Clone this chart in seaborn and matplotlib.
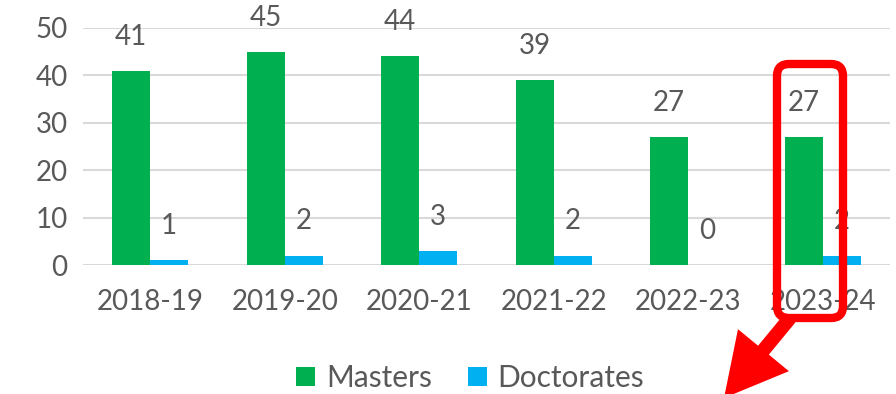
import matplotlib
matplotlib.use("Agg")
import matplotlib.pyplot as plt
import matplotlib.transforms as mtransforms
from matplotlib.patches import FancyBboxPatch, Polygon, Patch
import numpy as np
import pandas as pd
import seaborn as sns

years = ["2018-19", "2019-20", "2020-21", "2021-22", "2022-23", "2023-24"]
masters = [41, 45, 44, 39, 27, 27]
doctorates = [1, 2, 3, 2, 0, 2]
series = ["Masters", "Doctorates"]
colors = ["#00B050", "#00B0F0"]

df = pd.DataFrame({
    "Year": years * 2,
    "Count": masters + doctorates,
    "Degree": [series[0]] * len(years) + [series[1]] * len(years),
})

sns.set_style("white")
plt.rcParams["font.family"] = ["Lato", "DejaVu Sans"]
text_color = "#595959"

W, H = 896, 394
fig = plt.figure(figsize=(W / 100, H / 100), dpi=100)
ax = fig.add_axes([83 / W, 1 - 265 / H, (890 - 83) / W, (265 - 28) / H])

sns.barplot(data=df, x="Year", y="Count", hue="Degree", palette=colors,
            width=0.565, saturation=1, ax=ax, legend=False, edgecolor="none")

ax.set_ylim(0, 50)
ax.set_yticks(range(0, 51, 10))
ax.yaxis.grid(True, color="#d9d9d9", linewidth=1.5)
ax.set_axisbelow(True)
for s in ax.spines.values():
    s.set_visible(False)
ax.set_xlabel("")
ax.set_ylabel("")
ax.tick_params(axis="both", length=0, labelsize=20, labelcolor=text_color)
ax.tick_params(axis="x", pad=17)
ax.tick_params(axis="y", pad=11)

# value labels above each bar
for container in ax.containers:
    for bar in container:
        h = bar.get_height()
        ax.annotate(f"{int(h)}", (bar.get_x() + bar.get_width() / 2, h),
                    xytext=(0, 24.5), textcoords="offset points",
                    ha="center", va="center", fontsize=20, color=text_color)

handles = [Patch(facecolor=c, edgecolor="none") for c in colors]
fig.legend(handles, series, loc="center", bbox_to_anchor=(470 / W, 1 - 378 / H),
           ncol=2, frameon=False, fontsize=21.5, labelcolor=text_color,
           handlelength=0.65, handleheight=0.65, handletextpad=0.35, columnspacing=1.2)

# highlight box and arrow, in pixel coordinates from the top-left corner
px = mtransforms.Affine2D().scale(1 / W, -1 / H).translate(0, 1) + fig.transFigure
box = FancyBboxPatch((789, 76), 42, 230, boxstyle="round,pad=12,rounding_size=12",
                     fill=False, edgecolor="#FF0000", linewidth=6, transform=px, zorder=10)
fig.add_artist(box)

start = np.array([790.0, 318.0])
tip = np.array([724.0, 398.0])
d = (tip - start) / np.linalg.norm(tip - start)
n = np.array([-d[1], d[0]])
head_len, head_w, shaft_w = 62, 66, 14
base = tip - d * head_len
pts = [start + n * shaft_w / 2, base + n * shaft_w / 2, base + n * head_w / 2, tip,
       base - n * head_w / 2, base - n * shaft_w / 2, start - n * shaft_w / 2]
fig.add_artist(Polygon(pts, closed=True, facecolor="#FF0000", edgecolor="none",
                       transform=px, zorder=10))

fig.savefig("out.png", dpi=100)
